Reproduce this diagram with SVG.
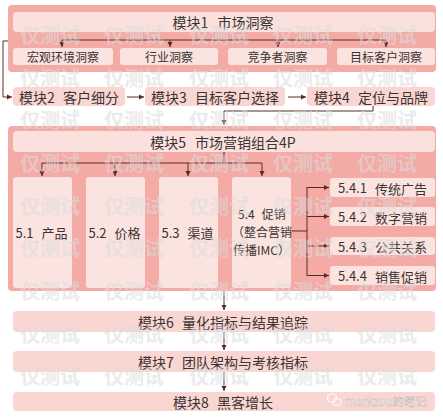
<svg xmlns="http://www.w3.org/2000/svg" width="443" height="418" viewBox="0 0 443 418">
<defs>
<style>
.outer{fill:#f4aaa5;}
.bar{fill:#fbe1de;}
.box{fill:#fbe3e0;}
.mod{fill:#fad6d3;}
text{font-family:"Noto Sans CJK SC","Liberation Sans",sans-serif;fill:#3a3333;}
.t14{font-size:14px;text-anchor:middle;dominant-baseline:central;}
.t12{font-size:12px;text-anchor:middle;dominant-baseline:central;}
.t13{font-size:13px;text-anchor:middle;dominant-baseline:central;}
.t13s{font-size:12px;text-anchor:start;dominant-baseline:central;}
.ln{fill:none;stroke:#5b2a27;stroke-width:1;}
.wm{font-size:20px;font-weight:bold;fill:#dcdcdc;opacity:0.55;text-anchor:middle;dominant-baseline:central;}
</style>
<marker id="ah" markerWidth="6" markerHeight="6" refX="5" refY="3" orient="auto" markerUnits="userSpaceOnUse">
<path d="M0,0.5 L5,3 L0,5.5 Z" fill="#5b2a27"/>
</marker>
</defs>
<rect width="443" height="418" fill="#ffffff"/>

<g id="module1">
<rect class="outer" x="8" y="5" width="428" height="67" rx="4"/>
<rect class="bar" x="13" y="12" width="422" height="20" rx="4"/>
<text class="t14" x="223" y="22">模块1<tspan dx="9">市场洞察</tspan></text>
</g>
<g id="m1a"><rect class="box" x="13" y="48" width="100" height="17" rx="3"/><text class="t12" x="63" y="56.5">宏观环境洞察</text></g>
<g id="m1b"><rect class="box" x="120" y="48" width="98" height="17" rx="3"/><text class="t12" x="169" y="56.5">行业洞察</text></g>
<g id="m1c"><rect class="box" x="228" y="48" width="99" height="17" rx="3"/><text class="t12" x="277.5" y="56.5">竞争者洞察</text></g>
<g id="m1d"><rect class="box" x="337" y="48" width="98" height="17" rx="3"/><text class="t12" x="386" y="56.5">目标客户洞察</text></g>

<g id="module2"><rect class="mod" x="13" y="87" width="112" height="19" rx="4"/><text class="t14" x="69" y="96.5">模块2<tspan dx="8">客户细分</tspan></text></g>
<g id="module3"><rect class="mod" x="145" y="87" width="140" height="19" rx="4"/><text class="t14" x="215" y="96.5">模块3<tspan dx="8">目标客户选择</tspan></text></g>
<g id="module4"><rect class="mod" x="307" y="87" width="128" height="19" rx="4"/><text class="t14" x="371" y="96.5">模块4<tspan dx="8">定位与品牌</tspan></text></g>

<g id="module5">
<rect class="outer" x="8" y="126" width="428" height="165" rx="4"/>
<rect class="bar" x="13" y="131" width="422" height="21" rx="4"/>
<text class="t14" x="223" y="141.5">模块5<tspan dx="9">市场营销组合4P</tspan></text>
</g>
<g id="p51"><rect class="box" x="13" y="177" width="59" height="111" rx="3"/><text class="t13" x="41.5" y="232">5.1<tspan dx="8">产品</tspan></text></g>
<g id="p52"><rect class="box" x="86" y="177" width="59" height="111" rx="3"/><text class="t13" x="114.5" y="232">5.2<tspan dx="8">价格</tspan></text></g>
<g id="p53"><rect class="box" x="159" y="177" width="59" height="111" rx="3"/><text class="t13" x="187.5" y="232">5.3<tspan dx="8">渠道</tspan></text></g>
<g id="p54"><rect class="box" x="232" y="177" width="59" height="111" rx="3"/>
<text class="t13s" x="238" y="213">5.4<tspan dx="7">促销</tspan></text>
<text class="t13s" x="232" y="231">（整合营销</text>
<text class="t13s" x="233" y="249">传播IMC）</text>
</g>
<g id="p541"><rect class="box" x="330" y="178" width="105" height="19" rx="3"/><text class="t13" x="382.5" y="187.5">5.4.1<tspan dx="8">传统广告</tspan></text></g>
<g id="p542"><rect class="box" x="330" y="207" width="105" height="19" rx="3"/><text class="t13" x="382.5" y="216.5">5.4.2<tspan dx="8">数字营销</tspan></text></g>
<g id="p543"><rect class="box" x="330" y="237" width="105" height="18" rx="3"/><text class="t13" x="382.5" y="246">5.4.3<tspan dx="8">公共关系</tspan></text></g>
<g id="p544"><rect class="box" x="330" y="266" width="105" height="19" rx="3"/><text class="t13" x="382.5" y="275.5">5.4.4<tspan dx="8">销售促销</tspan></text></g>

<g id="module6"><rect class="mod" x="13" y="311" width="422" height="21" rx="4"/><text class="t14" x="223" y="321.5">模块6<tspan dx="8">量化指标与结果追踪</tspan></text></g>
<g id="module7"><rect class="mod" x="13" y="351" width="422" height="21" rx="4"/><text class="t14" x="223" y="361.5">模块7<tspan dx="8">团队架构与考核指标</tspan></text></g>
<g id="module8"><rect class="mod" x="13" y="392" width="422" height="19" rx="4"/><text class="t14" x="223" y="401.5">模块8<tspan dx="8">黑客增长</tspan></text></g>

<g id="connectors">
<path class="ln" d="M62,40 H386"/>
<path class="ln" d="M62,40 V47" marker-end="url(#ah)"/>
<path class="ln" d="M170,40 V47" marker-end="url(#ah)"/>
<path class="ln" d="M278,40 V47" marker-end="url(#ah)"/>
<path class="ln" d="M386,40 V47" marker-end="url(#ah)"/>
<path class="ln" d="M8,41 H3 V97 H12" marker-end="url(#ah)"/>
<path class="ln" d="M127,97 H144" marker-end="url(#ah)"/>
<path class="ln" d="M288,97 H306" marker-end="url(#ah)"/>
<path class="ln" d="M373,106 V111 H224 V125" marker-end="url(#ah)"/>
<path class="ln" d="M224,152 V163"/>
<path class="ln" d="M42,163 H262"/>
<path class="ln" d="M42,163 V176" marker-end="url(#ah)"/>
<path class="ln" d="M115,163 V176" marker-end="url(#ah)"/>
<path class="ln" d="M188,163 V176" marker-end="url(#ah)"/>
<path class="ln" d="M262,163 V176" marker-end="url(#ah)"/>
<path class="ln" d="M292,231 H307"/>
<path class="ln" d="M307,187 V276"/>
<path class="ln" d="M307,187.5 H329" marker-end="url(#ah)"/>
<path class="ln" d="M307,216.5 H329" marker-end="url(#ah)"/>
<path class="ln" d="M307,246 H329" marker-end="url(#ah)"/>
<path class="ln" d="M307,275.5 H329" marker-end="url(#ah)"/>
<path class="ln" d="M224,291 V310" marker-end="url(#ah)"/>
<path class="ln" d="M224,332 V350" marker-end="url(#ah)"/>
<path class="ln" d="M224,372 V391" marker-end="url(#ah)"/>
</g>

<g id="watermark">
<g transform="translate(0,34)"><text class="wm" x="50" y="0">仅测试</text><text class="wm" x="134" y="0">仅测试</text><text class="wm" x="219" y="0">仅测试</text><text class="wm" x="303" y="0">仅测试</text><text class="wm" x="387" y="0">仅测试</text></g>
<g transform="translate(0,77)"><text class="wm" x="50" y="0">仅测试</text><text class="wm" x="134" y="0">仅测试</text><text class="wm" x="219" y="0">仅测试</text><text class="wm" x="303" y="0">仅测试</text><text class="wm" x="387" y="0">仅测试</text></g>
<g transform="translate(0,119)"><text class="wm" x="50" y="0">仅测试</text><text class="wm" x="134" y="0">仅测试</text><text class="wm" x="219" y="0">仅测试</text><text class="wm" x="303" y="0">仅测试</text><text class="wm" x="387" y="0">仅测试</text></g>
<g transform="translate(0,162)"><text class="wm" x="50" y="0">仅测试</text><text class="wm" x="134" y="0">仅测试</text><text class="wm" x="219" y="0">仅测试</text><text class="wm" x="303" y="0">仅测试</text><text class="wm" x="387" y="0">仅测试</text></g>
<g transform="translate(0,205)"><text class="wm" x="50" y="0">仅测试</text><text class="wm" x="134" y="0">仅测试</text><text class="wm" x="219" y="0">仅测试</text><text class="wm" x="303" y="0">仅测试</text><text class="wm" x="387" y="0">仅测试</text></g>
<g transform="translate(0,247)"><text class="wm" x="50" y="0">仅测试</text><text class="wm" x="134" y="0">仅测试</text><text class="wm" x="219" y="0">仅测试</text><text class="wm" x="303" y="0">仅测试</text><text class="wm" x="387" y="0">仅测试</text></g>
<g transform="translate(0,290)"><text class="wm" x="50" y="0">仅测试</text><text class="wm" x="134" y="0">仅测试</text><text class="wm" x="219" y="0">仅测试</text><text class="wm" x="303" y="0">仅测试</text><text class="wm" x="387" y="0">仅测试</text></g>
<g transform="translate(0,333)"><text class="wm" x="50" y="0">仅测试</text><text class="wm" x="134" y="0">仅测试</text><text class="wm" x="219" y="0">仅测试</text><text class="wm" x="303" y="0">仅测试</text><text class="wm" x="387" y="0">仅测试</text></g>
<g transform="translate(0,375)"><text class="wm" x="50" y="0">仅测试</text><text class="wm" x="134" y="0">仅测试</text><text class="wm" x="219" y="0">仅测试</text><text class="wm" x="303" y="0">仅测试</text><text class="wm" x="387" y="0">仅测试</text></g>
</g>

<g id="credit">
<ellipse cx="332" cy="398" rx="4.5" ry="4" fill="none" stroke="#ffffff" stroke-width="1.2" opacity="0.9"/>
<ellipse cx="337" cy="402" rx="4" ry="3.5" fill="none" stroke="#ffffff" stroke-width="1.2" opacity="0.9"/>
<text x="345" y="401" style="font-size:11.5px;fill:#ffffff;stroke:#b8b0b0;stroke-width:0.4;dominant-baseline:central;">markzou的笔记</text>
</g>
</svg>
